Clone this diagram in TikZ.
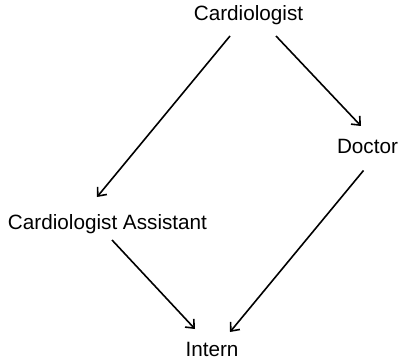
\documentclass[tikz,border=0pt]{standalone}
\usepackage{fontspec}
\setmainfont{Liberation Sans}
\usetikzlibrary{arrows.meta,calc}
\begin{document}
\begin{tikzpicture}[x=1pt,y=-1pt,
  lbl/.style={anchor=base,inner sep=0pt,font=\fontsize{20.7}{24}\selectfont},
  edge/.style={line width=1.6pt,-{Straight Barb[length=7pt,width=12pt]}}]
\useasboundingbox (0,0) rectangle (398,363);
\node[lbl] (card) at (248.5,21) {Cardiologist};
\node[lbl] (doc) at (367.5,153.5) {Doctor};
\node[lbl] (asst) at (107.5,229) {Cardiologist Assistant};
\node[lbl] (intern) at (212,356) {Intern};
\draw[edge] ($(card.base)+(-18.5,15)$) -- ($(asst.base)+(-10.5,-32)$);
\draw[edge] ($(card.base)+(27.5,15)$) -- ($(doc.base)+(-6.5,-27.5)$);
\draw[edge] ($(doc.base)+(-4,17)$) -- ($(intern.base)+(18,-24)$);
\draw[edge] ($(asst.base)+(4.5,11)$) -- ($(intern.base)+(-17,-27)$);
\end{tikzpicture}
\end{document}
